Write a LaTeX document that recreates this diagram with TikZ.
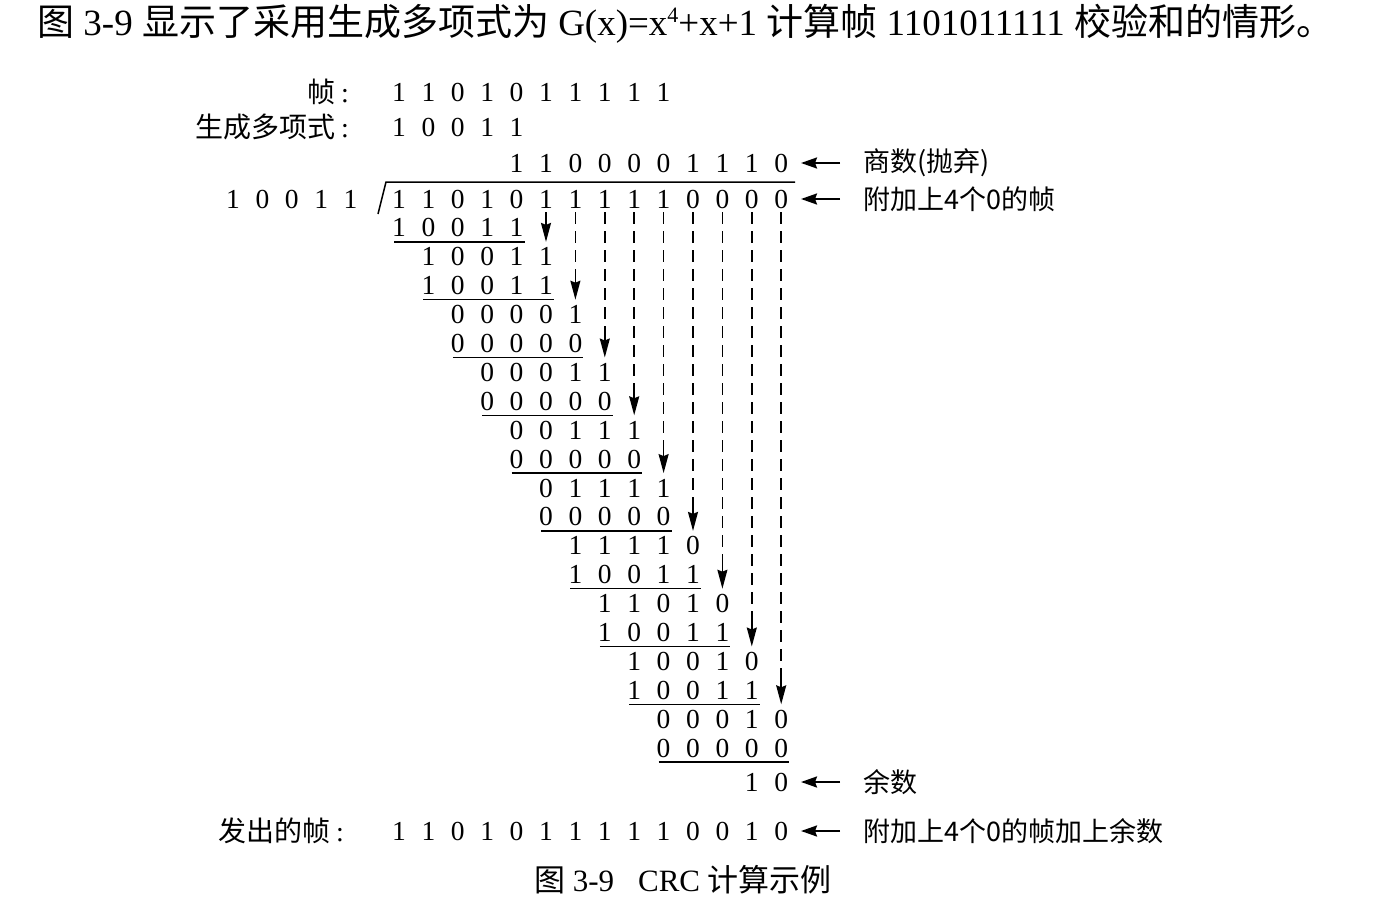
\documentclass[tikz,border=0pt]{standalone}
\usepackage{fontspec}
\setmainfont{Liberation Serif}
\newfontfamily\cjk{Noto Sans CJK SC}
\usetikzlibrary{arrows.meta}
\begin{document}
\begin{tikzpicture}[x=1pt,y=-1pt,
  dig/.style={inner sep=0pt, font=\fontsize{27.5}{30}\selectfont},
  lab/.style={inner sep=0pt, anchor=west, font=\cjk\fontsize{27}{30}\selectfont},
  llab/.style={inner sep=0pt, anchor=east, font=\fontsize{28}{30}\selectfont},
  uline/.style={line width=1.5pt},
  darrow/.style={line width=1.6pt, dash pattern=on 12pt off 7pt},
  harrow/.style={line width=1.6pt, -{Stealth[length=19pt,width=10pt,inset=2pt]}},
  rarrow/.style={line width=2.2pt, -{Stealth[length=16pt,width=11pt,inset=2pt]}},
]
\fill[white] (0,0) rectangle (1385,899);
\useasboundingbox (0,0) rectangle (1385,899);

% title
\node[inner sep=0pt, anchor=west, font=\fontsize{37}{40}\selectfont] (title) at (37,24)
  {{\cjk 图} 3-9 {\cjk 显示了采用生成多项式为} G(x)=x\raisebox{13pt}{\fontsize{22}{24}\selectfont 4}+x+1 {\cjk 计算帧} 1101011111 {\cjk 校验和的情形。}};

% left labels
\node[llab] (lframe) at (349,92) {{\cjk 帧}\hspace{6pt}:};
\node[llab] (lgen) at (349,127) {{\cjk 生成多项式}\hspace{6pt}:};
\node[llab] (lsent) at (344,831) {{\cjk 发出的帧}\hspace{6pt}:};

% frame row
\foreach \d [count=\j from 0] in {1,1,0,1,0,1,1,1,1,1}
  \node[dig] (f\j) at ({399+29.4*\j},92) {\d};
% generator row
\foreach \d [count=\j from 0] in {1,0,0,1,1}
  \node[dig] (g\j) at ({399+29.4*\j},127) {\d};
% quotient row
\foreach \d [count=\j from 4] in {1,1,0,0,0,0,1,1,1,0}
  \node[dig] (q\j) at ({399+29.4*\j},163) {\d};
% divisor at left
\foreach \d [count=\j from 0] in {1,0,0,1,1}
  \node[dig] (v\j) at ({233+29.4*\j},199) {\d};
% dividend
\foreach \d [count=\j from 0] in {1,1,0,1,0,1,1,1,1,1,0,0,0,0}
  \node[dig] (n\j) at ({399+29.4*\j},199) {\d};
% division bracket
\draw[uline] (378,214) -- (386,182) -- (795,182);

% working rows
\foreach \k/\s/\a/\b/\c/\d/\e in {
  1/0/1/0/0/1/1, 2/1/1/0/0/1/1, 3/1/1/0/0/1/1, 4/2/0/0/0/0/1,
  5/2/0/0/0/0/0, 6/3/0/0/0/1/1, 7/3/0/0/0/0/0, 8/4/0/0/1/1/1,
  9/4/0/0/0/0/0, 10/5/0/1/1/1/1, 11/5/0/0/0/0/0, 12/6/1/1/1/1/0,
  13/6/1/0/0/1/1, 14/7/1/1/0/1/0, 15/7/1/0/0/1/1, 16/8/1/0/0/1/0,
  17/8/1/0/0/1/1, 18/9/0/0/0/1/0, 19/9/0/0/0/0/0}{
  \node[dig] (w\k-0) at ({399+29.4*\s},{199+28.9*\k}) {\a};
  \node[dig] (w\k-1) at ({399+29.4*(\s+1)},{199+28.9*\k}) {\b};
  \node[dig] (w\k-2) at ({399+29.4*(\s+2)},{199+28.9*\k}) {\c};
  \node[dig] (w\k-3) at ({399+29.4*(\s+3)},{199+28.9*\k}) {\d};
  \node[dig] (w\k-4) at ({399+29.4*(\s+4)},{199+28.9*\k}) {\e};
}
% underlines
\foreach \k/\s in {1/0,3/1,5/2,7/3,9/4,11/5,13/6,15/7,17/8,19/9}
  \draw[uline] ({399+29.4*\s-5},{199+28.9*\k+14}) -- ({399+29.4*(\s+4)+8},{199+28.9*\k+14});

% bring-down arrows
\foreach \c in {5,...,13}{
  \pgfmathsetmacro\ty{199+28.9*(2*(\c-5)+1)+14}
  \coordinate (as\c) at ({399+29.4*\c},212);
  \coordinate (am\c) at ({399+29.4*\c},{\ty-28});
  \coordinate (at\c) at ({399+29.4*\c},\ty);
  \draw[darrow] (as\c) -- (am\c);
  \draw[harrow] (am\c) -- (at\c);
}

% remainder
\node[dig] (rem0) at ({399+29.4*12},782) {1};
\node[dig] (rem1) at ({399+29.4*13},782) {0};

% sent frame
\foreach \d [count=\j from 0] in {1,1,0,1,0,1,1,1,1,1,0,0,1,0}
  \node[dig] (s\j) at ({399+29.4*\j},831) {\d};

% right labels and arrows
\node[lab] (labq) at (863,163) {商数(抛弃)};
\node[lab] (labd) at (863,199) {附加上4个0的帧};
\node[lab] (labr) at (863,782) {余数};
\node[lab] (labs) at (863,831) {附加上4个0的帧加上余数};
\foreach \n/\y in {q/163,d/199,r/782,s/831}{
  \coordinate (ra\n) at (840,\y);
  \coordinate (rb\n) at (801,\y);
  \draw[rarrow] (ra\n) -- (rb\n);
}

% caption
\node[inner sep=0pt, font=\fontsize{31}{34}\selectfont] (cap) at (683,880)
  {{\cjk 图} 3-9\hspace{24pt}CRC {\cjk 计算示例}};
\end{tikzpicture}
\end{document}
